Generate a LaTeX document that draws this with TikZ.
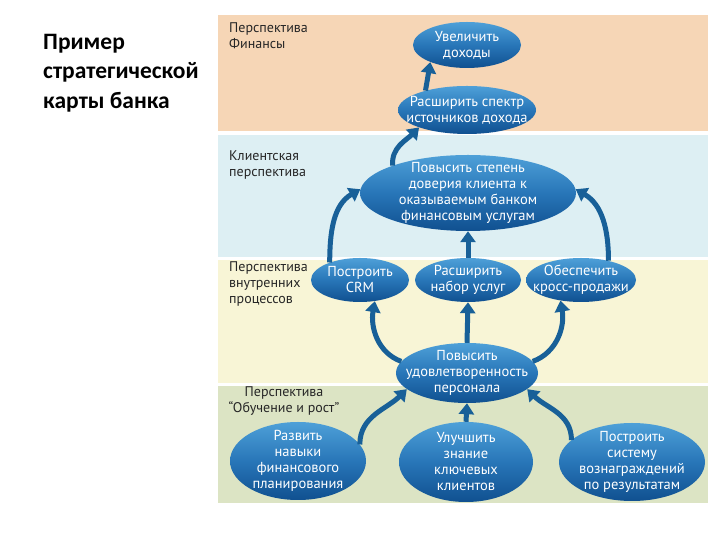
\documentclass[tikz,border=0pt]{standalone}
\usepackage{fontspec}
\setmainfont{Carlito}
\newfontfamily\diagfont{PT Sans}
\usetikzlibrary{shapes.geometric,arrows.meta}
\definecolor{finC}{RGB}{246,214,182}
\definecolor{cliC}{RGB}{221,239,243}
\definecolor{intC}{RGB}{248,245,214}
\definecolor{lrnC}{RGB}{220,228,196}
\definecolor{ellTop}{RGB}{78,160,216}
\definecolor{ellMid}{RGB}{40,118,184}
\definecolor{ellBot}{RGB}{16,80,144}
\definecolor{arrC}{RGB}{24,96,152}
\tikzset{
  band/.style={fill=#1, draw=none},
  ell/.style={ellipse, draw=none, inner sep=0pt, top color=ellTop, bottom color=ellBot, middle color=ellMid},
  etext/.style={text=white, align=center, font=\diagfont\fontsize{14.5}{16}\selectfont, inner sep=0pt},
  blabel/.style={align=left, font=\diagfont\fontsize{14}{16}\selectfont, inner sep=0pt, text=black!85},
  arr/.style={line width=5pt, draw=arrC, -{Triangle[width=15pt,length=11pt]}}
}
\begin{document}
\begin{tikzpicture}[x=1pt,y=1pt]
\useasboundingbox (0,0) rectangle (720,540);
\fill[white] (0,0) rectangle (720,540);
% bands
\fill[band=finC] (218,409) rectangle (708,525);
\fill[band=cliC] (218,283) rectangle (708,405);
\fill[band=intC] (218,157) rectangle (708,280);
\fill[band=lrnC] (218,37) rectangle (708,154);
% title
\node[anchor=north west, align=left, inner sep=0pt, font=\bfseries\fontsize{23.5}{29.5}\selectfont] (title) at (43,506) {Пример\\стратегической\\карты банка};
% band labels
\node[blabel, anchor=north west] (lfin) at (229,517) {Перспектива\\Финансы};
\node[blabel, anchor=north west] (lcli) at (229,389) {Клиентская\\перспектива};
\node[blabel, anchor=north west] (lint) at (229,278) {Перспектива\\внутренних\\процессов};
\node[blabel, anchor=north, align=center] (llrn) at (284,153) {Перспектива\\“Обучение и рост”};
% ellipses
\node[ell, minimum width=108pt, minimum height=46pt] (e1) at (467,495) {};
\node[etext] (t1) at (e1.center) {Увеличить\\доходы};
\node[ell, minimum width=138pt, minimum height=48pt] (e2) at (467,430) {};
\node[etext] (t2) at (e2.center) {Расширить спектр\\источников дохода};
\node[ell, minimum width=216pt, minimum height=76pt] (e3) at (468,347) {};
\node[etext] (t3) at (e3.center) {Повысить степень\\доверия клиента к\\оказываемым банком\\финансовым услугам};
\node[ell, minimum width=98pt, minimum height=44pt] (e4a) at (360,260) {};
\node[etext] (t4a) at (e4a.center) {Построить\\CRM};
\node[ell, minimum width=106pt, minimum height=44pt] (e4b) at (468,260) {};
\node[etext] (t4b) at (e4b.center) {Расширить\\набор услуг};
\node[ell, minimum width=110pt, minimum height=44pt] (e4c) at (581,260) {};
\node[etext] (t4c) at (e4c.center) {Обеспечить\\кросс-продажи};
\node[ell, minimum width=142pt, minimum height=60pt] (e5) at (467,167) {};
\node[etext] (t5) at (e5.center) {Повысить\\удовлетворенность\\персонала};
\node[ell, minimum width=136pt, minimum height=78pt] (e6a) at (298,79) {};
\node[etext] (t6a) at (e6a.center) {Развить\\навыки\\финансового\\планирования};
\node[ell, minimum width=134pt, minimum height=80pt] (e6b) at (466,78) {};
\node[etext] (t6b) at (e6b.center) {Улучшить\\знание\\ключевых\\клиентов};
\node[ell, minimum width=146pt, minimum height=78pt] (e6c) at (632,78) {};
\node[etext] (t6c) at (e6c.center) {Построить\\систему\\вознаграждений\\по результатам};
% arrows
\draw[arr] (e2.155) -- (e1.205);
\draw[arr] (e3.160) to[out=95,in=225] (e2.200);
\draw[arr] (e4a.150) to[out=90,in=210] (e3.178);
\draw[arr] (e4b.north) -- (e3.south);
\draw[arr] (e4c.35) to[out=90,in=-30] (e3.2);
\draw[arr] (e5.170) to[out=160,in=-100] (e4a.-55);
\draw[arr] (e5.north) -- (e4b.south);
\draw[arr] (e5.10) to[out=20,in=-80] (e4c.-135);
\draw[arr] (e6a.15) to[out=90,in=225] (e5.195);
\draw[arr] (e6b.north) -- (e5.south);
\draw[arr] (e6c.160) to[out=90,in=-45] (e5.-15);
\end{tikzpicture}
\end{document}
